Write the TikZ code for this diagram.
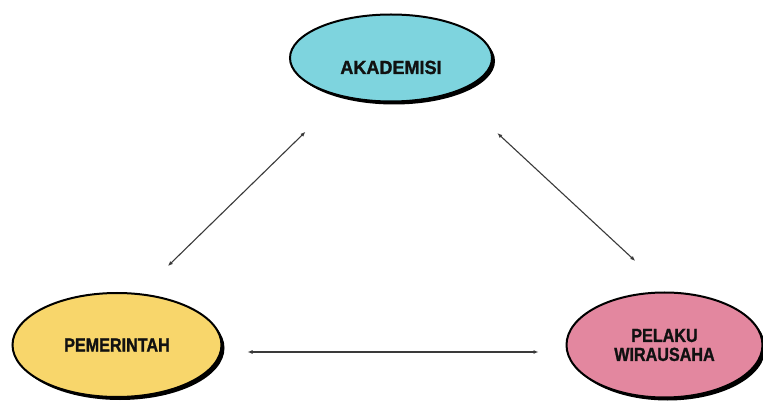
\documentclass[tikz,border=0pt]{standalone}
\usepackage{fontspec}
\usepackage{xcolor}
\usetikzlibrary{shapes.geometric, arrows.meta, positioning, shadows}
\newfontfamily\actorfont[FakeStretch=0.85, FakeBold=1.2]{Liberation Sans}
\definecolor{darktext}{HTML}{111111}
\definecolor{akacolor}{HTML}{7ED4DE}
\definecolor{pemcolor}{HTML}{F8D66B}
\definecolor{wircolor}{HTML}{E3879F}
\definecolor{linkcolor}{HTML}{3A3A3A}

\begin{document}
\begin{tikzpicture}[
    x=1pt, y=1pt,
    actor/.style={ellipse, draw=black, line width=2pt, fill=#1,
                  drop shadow={opacity=1, fill=black, shadow xshift=3pt, shadow yshift=-3pt},
                  align=center, text=darktext,
                  font=\actorfont\bfseries\fontsize{19}{19}\selectfont},
    link/.style={{Latex[length=5pt,width=4pt]}-{Latex[length=5pt,width=4pt]},
                 line width=1.1pt, color=linkcolor}
]
\useasboundingbox (0,0) rectangle (763,407);
\fill[white] (0,0) rectangle (763,407);

% Actors
\node[actor=akacolor, minimum width=202pt, minimum height=87pt,
      text height=32pt, text depth=0pt] (aka) at (391,349)
      {\addfontfeature{FakeStretch=0.95}AKADEMISI};
\node[actor=pemcolor, minimum width=209pt, minimum height=104pt] (pem) at (117,62) {PEMERINTAH};
\node[actor=wircolor, minimum width=196pt, minimum height=105pt,
      right=343pt of pem] (wir) {PELAKU\\WIRAUSAHA};

% Links
\draw[link, shorten <=39pt, shorten >=50pt] (pem.66.6) -- (aka.218.4);
\draw[link, shorten <=59pt, shorten >=45pt] (aka.331.4) -- (wir.86.7);
\draw[link, shorten <=25pt, shorten >=27pt] ([yshift=-7pt]pem.east) -- ([yshift=-7pt]wir.west);

\end{tikzpicture}
\end{document}
